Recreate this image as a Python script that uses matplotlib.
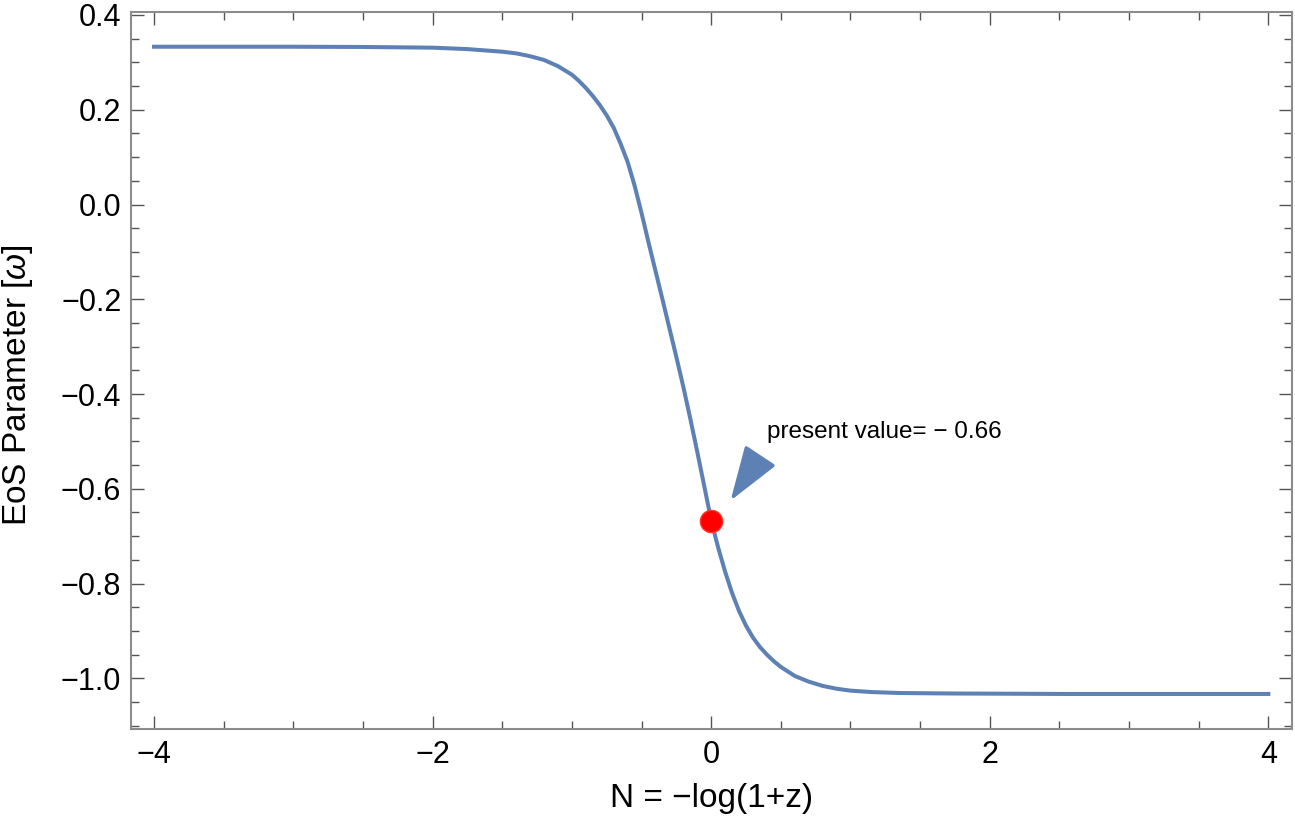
import matplotlib
matplotlib.use("Agg")
import matplotlib.pyplot as plt
from matplotlib.ticker import MultipleLocator, FixedLocator

plt.rcParams['font.family'] = ['Liberation Sans', 'DejaVu Sans']
plt.rcParams['mathtext.fontset'] = 'custom'
plt.rcParams['mathtext.rm'] = 'Liberation Sans'
plt.rcParams['mathtext.it'] = 'Liberation Sans:italic'

# ---- data ----
N_vals = [-4.0, -3.0, -2.5, -2.0, -1.75, -1.5, -1.4, -1.3, -1.2, -1.1, -1.0,
          -0.95, -0.9, -0.85, -0.8, -0.75, -0.7, -0.65, -0.6, -0.55, -0.5,
          -0.45, -0.4, -0.35, -0.3, -0.25, -0.2, -0.15, -0.1, -0.05, 0.0,
          0.05, 0.1, 0.15, 0.2, 0.25, 0.3, 0.35, 0.4, 0.45, 0.5, 0.6, 0.7,
          0.8, 0.9, 1.0, 1.15, 1.35, 1.7, 2.5, 4.0]
w_vals = [0.333, 0.333, 0.3325, 0.331, 0.328, 0.3225, 0.319, 0.313, 0.305, 0.292, 0.274,
          0.261, 0.246, 0.229, 0.210, 0.188, 0.162, 0.128, 0.090, 0.040, -0.018,
          -0.080, -0.140, -0.200, -0.261, -0.322, -0.385, -0.452, -0.522, -0.594, -0.667,
          -0.724, -0.775, -0.820, -0.858, -0.889, -0.914, -0.934, -0.950, -0.964, -0.976, -0.995, -1.007,
          -1.016, -1.022, -1.026, -1.029, -1.031, -1.032, -1.033, -1.033]

present_N = [0.0]
present_w = [-0.667]
present_text = "present value= \u2212 0.66"

xticks = [-4, -2, 0, 2, 4]
xtick_labels = ["\u22124", "\u22122", "0", "2", "4"]
yticks = [0.4, 0.2, 0.0, -0.2, -0.4, -0.6, -0.8, -1.0]
ytick_labels = ["0.4", "0.2", "0.0", "\u22120.2", "\u22120.4", "\u22120.6", "\u22120.8", "\u22121.0"]

xlabel = "N = \u2212log(1+z)"
ylabel = "EoS Parameter [$\\mathit{\\omega}$]"

line_color = "#5E81B5"
frame_color = "#8c8c8c"

fig = plt.figure(figsize=(12.95, 8.39), dpi=100)
ax = fig.add_axes([0.1012, 0.1311, 0.8965, 0.8546])

ax.plot(N_vals, w_vals, color=line_color, lw=2.9, solid_joinstyle='round', zorder=2)
ax.plot(present_N, present_w, 'o', color='red', markeredgecolor='#ff3a2a',
        markersize=16, zorder=3)

ax.annotate("", xy=(0.139, -0.625), xytext=(0.344, -0.534),
            arrowprops=dict(arrowstyle='-|>,head_length=3.4,head_width=1.15',
                            mutation_scale=10, color=line_color, lw=2.5,
                            shrinkA=0, shrinkB=0))
ax.text(0.4, -0.481, present_text, fontsize=17.5, ha='left', va='center')

ax.set_xlim(-4.165, 4.17)
ax.set_ylim(-1.107, 0.4063)

ax.xaxis.set_major_locator(FixedLocator(xticks))
ax.set_xticklabels(xtick_labels)
ax.yaxis.set_major_locator(FixedLocator(yticks))
ax.set_yticklabels(ytick_labels)
ax.xaxis.set_minor_locator(MultipleLocator(0.5))
ax.yaxis.set_minor_locator(MultipleLocator(0.05))

ax.tick_params(which='both', direction='in', top=True, right=True,
               labeltop=False, labelright=False, color='#555555', width=1.0)
ax.tick_params(which='major', length=9.5, labelsize=22)
ax.tick_params(which='minor', length=5.8)
ax.tick_params(axis='x', which='major', pad=8)
ax.tick_params(axis='y', which='major', pad=7)

for s in ax.spines.values():
    s.set_color(frame_color)
    s.set_linewidth(1.5)

ax.set_xlabel(xlabel, fontsize=24, labelpad=9)
ax.set_ylabel(ylabel, fontsize=24)
ax.yaxis.set_label_coords(-0.083, 0.48)

fig.savefig("out.png", dpi=100)
